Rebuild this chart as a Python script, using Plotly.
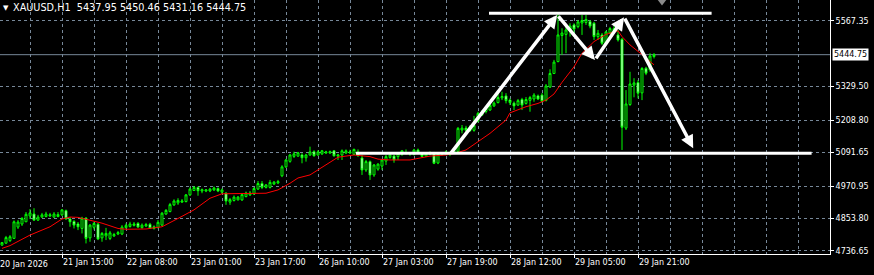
import plotly.graph_objects as go

# ---------------- data (XAUUSD H1) ----------------
opens = [4758, 4765, 4774, 4782, 4823, 4834, 4842, 4863, 4870, 4848,
         4859, 4861, 4863, 4859, 4861, 4867, 4882, 4852, 4843, 4834,
         4818, 4855, 4784, 4822, 4833, 4784, 4791, 4782, 4791, 4798,
         4798, 4821, 4825, 4829, 4836, 4821, 4827, 4833, 4818, 4821,
         4830, 4870, 4879, 4903, 4910, 4913, 4915, 4939, 4955, 4966,
         4953, 4953, 4953, 4957, 4962, 4949, 4945, 4913, 4919, 4921,
         4921, 4933, 4939, 4942, 4960, 4980, 4966, 4966, 4978, 4982,
         5008, 5040, 5060, 5078, 5079, 5083, 5073, 5083, 5095, 5083,
         5087, 5090, 5090, 5098, 5079, 5083, 5090, 5090, 5085, 5093,
         5072, 5029, 5059, 5011, 5032, 5043, 5061, 5074, 5079, 5077,
         5085, 5092, 5086, 5085, 5101, 5089, 5079, 5085, 5088, 5054,
         5085, 5088, 5085, 5090, 5096, 5173, 5180, 5171, 5172, 5205,
         5227, 5240, 5245, 5260, 5272, 5289, 5296, 5281, 5270, 5263,
         5283, 5269, 5280, 5285, 5296, 5299, 5280, 5328, 5377, 5420,
         5514, 5518, 5534, 5552, 5546, 5559, 5561, 5564, 5558, 5510,
         5516, 5487, 5523, 5528, 5516, 5500, 5180, 5265, 5335, 5344,
         5307, 5396, 5390, 5437.95]
highs = [4769, 4791, 4794, 4847, 4848, 4859, 4877, 4888, 4891, 4867,
         4874, 4878, 4874, 4877, 4877, 4888, 4886, 4859, 4848, 4841,
         4860, 4859, 4834, 4841, 4838, 4805, 4820, 4809, 4802, 4809,
         4830, 4836, 4842, 4841, 4841, 4836, 4838, 4838, 4829, 4848,
         4877, 4888, 4910, 4923, 4927, 4924, 4942, 4966, 4971, 4969,
         4962, 4960, 4964, 4969, 4966, 4962, 4949, 4928, 4937, 4935,
         4946, 4951, 4953, 4967, 4989, 4989, 4978, 4993, 4989, 4993,
         5046, 5069, 5087, 5095, 5094, 5089, 5087, 5113, 5100, 5100,
         5101, 5098, 5099, 5101, 5087, 5103, 5103, 5102, 5106, 5103,
         5083, 5065, 5063, 5050, 5053, 5068, 5083, 5088, 5083, 5092,
         5101, 5103, 5094, 5105, 5106, 5092, 5093, 5096, 5094, 5092,
         5093, 5099, 5095, 5105, 5184, 5191, 5188, 5191, 5224, 5239,
         5245, 5257, 5267, 5276, 5306, 5311, 5306, 5287, 5276, 5285,
         5289, 5292, 5296, 5306, 5301, 5306, 5339, 5392, 5426, 5592,
         5540, 5552, 5558, 5558, 5570, 5588, 5588, 5570, 5563, 5534,
         5523, 5531, 5545, 5552, 5534, 5505, 5317, 5383, 5360, 5353,
         5400, 5401, 5450, 5450.46]
lows = [4755, 4762, 4769, 4780, 4816, 4827, 4841, 4852, 4845, 4845,
        4856, 4858, 4859, 4856, 4858, 4863, 4850, 4824, 4818, 4812,
        4800, 4764, 4770, 4814, 4776, 4770, 4776, 4776, 4787, 4794,
        4794, 4817, 4821, 4825, 4820, 4817, 4823, 4816, 4814, 4818,
        4827, 4867, 4876, 4899, 4903, 4910, 4912, 4935, 4953, 4936,
        4945, 4949, 4949, 4953, 4949, 4942, 4903, 4903, 4915, 4919,
        4917, 4930, 4935, 4939, 4957, 4960, 4962, 4962, 4975, 4978,
        5003, 5036, 5055, 5072, 5076, 5053, 5059, 5080, 5077, 5080,
        5083, 5087, 5087, 5077, 5065, 5065, 5087, 5087, 5083, 5077,
        5011, 5022, 4993, 5004, 5026, 5029, 5047, 5069, 5055, 5065,
        5080, 5085, 5080, 5081, 5087, 5074, 5076, 5082, 5050, 5050,
        5081, 5083, 5079, 5087, 5092, 5161, 5167, 5166, 5167, 5200,
        5224, 5233, 5242, 5256, 5269, 5281, 5269, 5263, 5245, 5260,
        5245, 5265, 5239, 5275, 5281, 5273, 5276, 5325, 5375, 5417,
        5444, 5450, 5510, 5510, 5540, 5516, 5552, 5540, 5498, 5498,
        5480, 5483, 5518, 5525, 5492, 5101, 5173, 5260, 5291, 5287,
        5281, 5371, 5383, 5431.16]
closes = [4767, 4785, 4788, 4842, 4841, 4854, 4869, 4874, 4848, 4859,
          4867, 4870, 4867, 4870, 4868, 4885, 4852, 4842, 4830, 4824,
          4855, 4782, 4830, 4836, 4780, 4800, 4800, 4802, 4796, 4803,
          4823, 4829, 4834, 4834, 4823, 4830, 4832, 4818, 4824, 4840,
          4873, 4883, 4904, 4917, 4919, 4917, 4939, 4960, 4966, 4954,
          4958, 4957, 4960, 4964, 4953, 4957, 4917, 4922, 4931, 4931,
          4940, 4946, 4946, 4962, 4980, 4966, 4975, 4984, 4985, 4987,
          5040, 5065, 5083, 5087, 5091, 5073, 5083, 5094, 5080, 5094,
          5098, 5094, 5095, 5080, 5083, 5098, 5098, 5094, 5103, 5080,
          5029, 5059, 5011, 5047, 5050, 5065, 5077, 5083, 5065, 5089,
          5098, 5088, 5091, 5101, 5090, 5078, 5089, 5091, 5053, 5089,
          5089, 5094, 5090, 5099, 5179, 5180, 5172, 5184, 5190, 5233,
          5238, 5251, 5262, 5270, 5290, 5294, 5279, 5272, 5260, 5279,
          5263, 5283, 5290, 5299, 5285, 5276, 5332, 5377, 5418, 5516,
          5523, 5534, 5548, 5537, 5563, 5568, 5572, 5548, 5510, 5522,
          5486, 5527, 5539, 5539, 5498, 5183, 5267, 5339, 5343, 5306,
          5395, 5378, 5440, 5444.75]

# moving average (red line), read at selected bars
ma_index = [0, 2, 7, 12, 15, 17, 19, 22, 25, 29, 31, 36, 40, 44, 48, 52, 55,
            66, 69, 72, 74, 77, 82, 84, 88, 92, 94, 97, 102, 104, 107, 111,
            113, 116, 119, 122, 126, 127, 131, 134, 136, 138, 140, 143, 145,
            148, 151, 154, 155, 157, 160, 163]
ma_values = [4746, 4756, 4794, 4824, 4852, 4859, 4858, 4848, 4837, 4818,
             4815, 4816, 4824, 4854, 4885, 4927, 4943, 4945, 4957, 4981,
             5000, 5011, 5059, 5075, 5083, 5077, 5068, 5065, 5065, 5071,
             5079, 5083, 5088, 5101, 5131, 5161, 5209, 5235, 5257, 5269,
             5281, 5303, 5345, 5401, 5450, 5492, 5518, 5531, 5510, 5480,
             5445, 5408]

# axis labels
x_tick_index = [15, 31, 47, 63, 79, 95, 111, 127, 143, 159]
x_tick_text = ["21 Jan 15:00", "22 Jan 08:00", "23 Jan 01:00", "23 Jan 17:00",
               "26 Jan 10:00", "27 Jan 03:00", "27 Jan 19:00", "28 Jan 12:00",
               "29 Jan 05:00", "29 Jan 21:00"]
first_date_label = "20 Jan 2026"
y_tick_values = [5567.35, 5329.50, 5208.80, 5091.65, 4970.95, 4853.80, 4736.65]
y_tick_text = ["5567.35", "5329.50", "5208.80", "5091.65", "4970.95", "4853.80", "4736.65"]

# hand-drawn pattern (double top) on the chart
pattern_index = [112, 138.8, 148.25, 155.5, 172.8]
pattern_price = [5085, 5588, 5426, 5580, 5107]
top_line_index = [121.75, 177.4]
top_line_price = 5594
neck_line_index = [88.5, 202.4]
neck_line_price = 5089
shift_marker_index = 165

symbol = "XAUUSD,H1"

# ---------------- figure ----------------
bar_index = list(range(len(opens)))
GRID = "#778899"
FONT = "DejaVu Sans"

fig = go.Figure()
fig.add_trace(go.Candlestick(
    x=bar_index, open=opens, high=highs, low=lows, close=closes,
    increasing=dict(line=dict(color="#00ff00", width=1), fillcolor="#000000"),
    decreasing=dict(line=dict(color="#00ff00", width=1), fillcolor="#ffffff"),
    whiskerwidth=0, hoverinfo="skip", showlegend=False))
fig.add_trace(go.Scatter(x=ma_index, y=ma_values, mode="lines",
                         line=dict(color="#ff0000", width=1),
                         hoverinfo="skip", showlegend=False))

y_top, y_bot = 5642.0, 4725.8
fig.add_trace(go.Scatter(x=[shift_marker_index], y=[y_top], mode="markers",
                         marker=dict(symbol="triangle-down", size=11, color="#8a8a8a"),
                         hoverinfo="skip", showlegend=False))

# current price line
fig.add_shape(type="line", xref="paper", x0=0, x1=1, yref="y",
              y0=closes[-1], y1=closes[-1], line=dict(color=GRID, width=1), layer="below")
# pattern horizontals
fig.add_shape(type="line", xref="x", yref="y", x0=top_line_index[0], x1=top_line_index[1],
              y0=top_line_price, y1=top_line_price, line=dict(color="white", width=3))
fig.add_shape(type="line", xref="x", yref="y", x0=neck_line_index[0], x1=neck_line_index[1],
              y0=neck_line_price, y1=neck_line_price, line=dict(color="white", width=3))

annotations = []
for k in range(len(pattern_index) - 1):
    annotations.append(dict(
        x=pattern_index[k + 1], y=pattern_price[k + 1], xref="x", yref="y",
        ax=pattern_index[k], ay=pattern_price[k], axref="x", ayref="y",
        showarrow=True, arrowhead=2, arrowsize=0.75, arrowwidth=3.5, arrowcolor="white",
        text=""))

# title
annotations.append(dict(xref="paper", yref="paper", x=0, y=1, xshift=1, yshift=-2,
                        xanchor="left", yanchor="top", showarrow=False, text="▼",
                        font=dict(family=FONT, size=7, color="white")))
annotations.append(dict(xref="paper", yref="paper", x=0, y=1, xshift=11, yshift=0,
                        xanchor="left", yanchor="top", showarrow=False,
                        text=f"{symbol}  {opens[-1]:.2f} {highs[-1]:.2f} {lows[-1]:.2f} {closes[-1]:.2f}",
                        font=dict(family=FONT, size=9.7, color="white")))
# current price box
annotations.append(dict(xref="paper", yref="y", x=1, y=closes[-1], xanchor="left",
                        xshift=2, showarrow=False, text=f"{closes[-1]:.2f}",
                        bgcolor="white", borderpad=1,
                        font=dict(family=FONT, size=8, color="black")))
# first date label (cut at left edge)
annotations.append(dict(xref="paper", yref="paper", x=0, y=0, xshift=-2, yshift=-4,
                        xanchor="left", yanchor="top", showarrow=False,
                        text=first_date_label, font=dict(family=FONT, size=8, color="white")))

fig.update_layout(
    width=874, height=275,
    margin=dict(l=0, r=44, t=0, b=21),
    paper_bgcolor="black", plot_bgcolor="black",
    showlegend=False,
    annotations=annotations,
    font=dict(family=FONT, size=8, color="white"),
    xaxis=dict(
        range=[-0.5, 207], rangeslider=dict(visible=False),
        tickmode="array", tickvals=x_tick_index, ticktext=x_tick_text,
        ticklabelposition="outside right",
        ticks="outside", ticklen=3, tickcolor="white",
        showgrid=True, gridcolor=GRID, griddash="3px,3px", gridwidth=1,
        minor=dict(tickmode="linear", tick0=7, dtick=8, showgrid=True,
                   gridcolor=GRID, griddash="3px,3px", gridwidth=1, ticks=""),
        showline=True, linecolor="white", linewidth=1,
        zeroline=False, fixedrange=True,
        tickfont=dict(family=FONT, size=8, color="white"),
    ),
    yaxis=dict(
        range=[y_bot, y_top], side="right",
        tickmode="array", tickvals=y_tick_values, ticktext=y_tick_text,
        ticks="outside", ticklen=3, tickcolor="white",
        showgrid=True, gridcolor=GRID, griddash="3px,3px", gridwidth=1,
        showline=True, linecolor="white", linewidth=1,
        zeroline=False, fixedrange=True,
        tickfont=dict(family=FONT, size=8, color="white"),
    ),
)

fig.write_html("out.html")
